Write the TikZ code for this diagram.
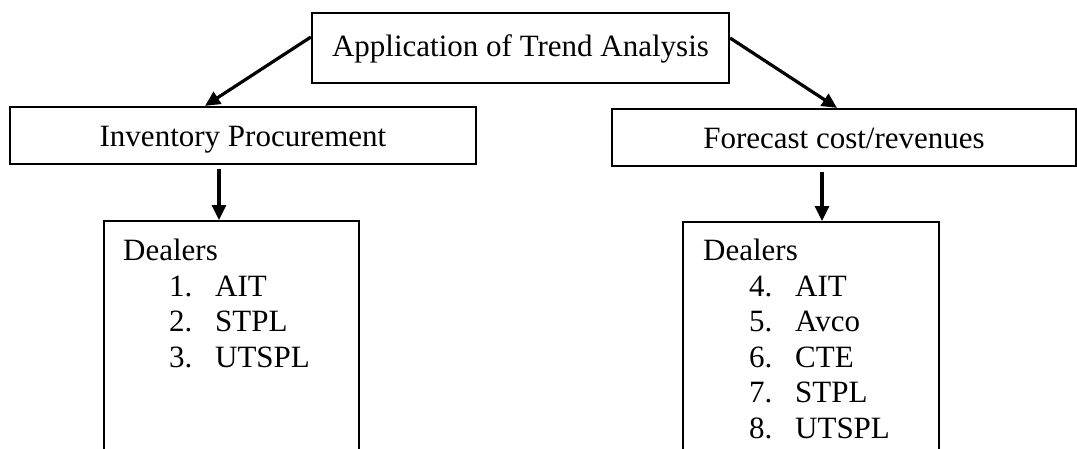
\documentclass[tikz,border=0pt]{standalone}
\usepackage{fontspec}
\setmainfont{Liberation Serif}
\usetikzlibrary{arrows.meta}

% one numbered dealer line: indent, number column, name
\newcommand\dealer[2]{\hspace*{46pt}\makebox[46pt][l]{#1}#2}

\begin{document}
\begin{tikzpicture}[
		x=1pt, y=-1pt,
		font=\fontsize{31}{35.5}\selectfont,
		box/.style={draw, line width=2.2pt, inner sep=0pt},
		head/.style={box, minimum height=57pt, text height=22pt, text depth=0pt},
		flow/.style={line width=3.2pt, -{Triangle[length=15pt,width=14pt]}},
	]
		\clip (0,0) rectangle (1077,448);

		\node [box, minimum width=417pt, minimum height=70pt, text height=21pt, text depth=4pt] (trend) at (520.5,48) {Application of Trend Analysis};
		\node [head, minimum width=466pt] (inv) at (243,135.5) {Inventory Procurement};
		\node [head, minimum width=464pt] (fc) at (844,137.5) {Forecast cost/revenues};

		% dealer boxes run off the bottom edge
		\node [box, anchor=north west, minimum width=255pt, minimum height=260pt] (dealA) at (103,220) {};
		\node [box, anchor=north west, minimum width=256pt, minimum height=260pt] (dealB) at (682,221) {};
		% base anchor sits on the last line
		\node [anchor=base west, align=left, inner sep=0pt] (listA) at (123,367) {Dealers\\
			\dealer{1.}{AIT}\\
			\dealer{2.}{STPL}\\
			\dealer{3.}{UTSPL}};
		\node [anchor=base west, align=left, inner sep=0pt] (listB) at (703,438) {Dealers\\
			\dealer{4.}{AIT}\\
			\dealer{5.}{Avco}\\
			\dealer{6.}{CTE}\\
			\dealer{7.}{STPL}\\
			\dealer{8.}{UTSPL}};

		\draw [flow] ([yshift=11pt]trend.west) -- ([xshift=-38pt]inv.north);
		\draw [flow] ([yshift=10pt]trend.east) -- ([xshift=-7pt]fc.north);

		\coordinate (invout) at ([xshift=-24pt,yshift=-4pt]inv.south);
		\coordinate (fcout) at ([xshift=-22pt,yshift=-5pt]fc.south);
		\draw [flow] (invout) -- (invout |- dealA.north);
		\draw [flow] (fcout) -- (fcout |- dealB.north);
	\end{tikzpicture}
\end{document}
